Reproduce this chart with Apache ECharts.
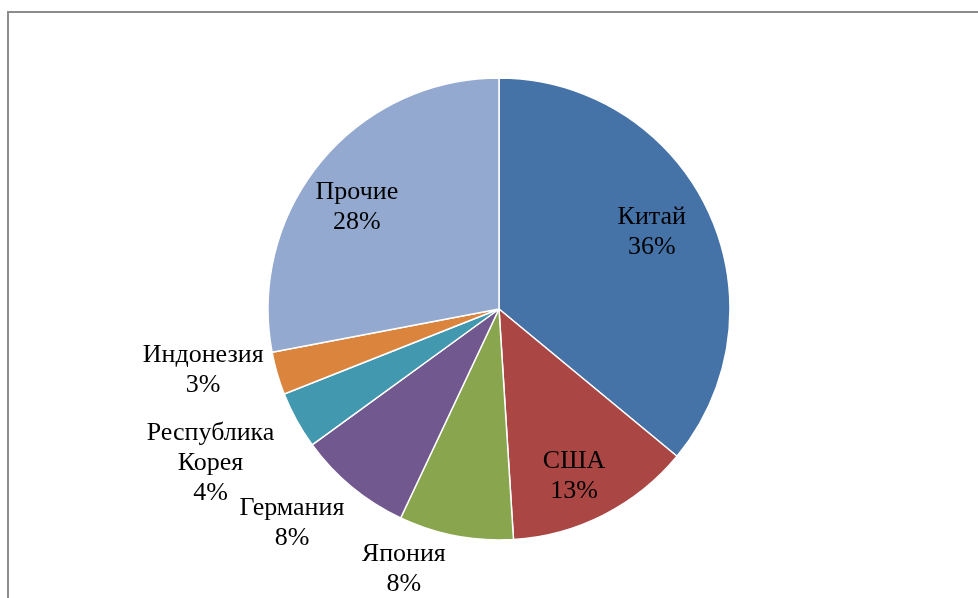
<!DOCTYPE html>
<html>
<head>
<meta charset="utf-8">
<script src="https://cdn.jsdelivr.net/npm/echarts@6/dist/echarts.min.js"></script>
<style>
  html, body { margin: 0; padding: 0; background: #fff; }
  #main { width: 978px; height: 598px; }
</style>
</head>
<body>
<div id="main"></div>
<script>
// данные диаграммы
var countries = ['Китай', 'США', 'Япония', 'Германия', 'Республика Корея', 'Индонезия', 'Прочие'];
var shares = [36, 13, 8, 8, 4, 3, 28];
var colors = ['#4572A7', '#AA4643', '#89A54E', '#71588F', '#4198AF', '#DB843D', '#93A9CF'];

// где стоят подписи: поворот от середины сектора (град.) и расстояние от центра (px)
var labelTurn = [-1.5, 2.8, 9.3, 4.4, 0.7, 4.6, -3.9];
var labelDist = [171, 183, 277, 298, 327, 302, 175];

var cx = 499, cy = 309, R = 231;
var total = shares.reduce(function (a, b) { return a + b; }, 0);
var cum = [];
var acc = 0;
shares.forEach(function (v) { cum.push(acc); acc += v; });

var myChart = echarts.init(document.getElementById('main'));

var option = {
  backgroundColor: '#fff',
  animation: false,
  graphic: [{
    type: 'rect',
    shape: { x: 8, y: 12, width: 1100, height: 800 },
    style: { fill: 'none', stroke: '#8c8c8c', lineWidth: 2 },
    silent: true
  }],
  series: [{
    type: 'pie',
    center: [cx, cy],
    radius: R,
    startAngle: 90,
    clockwise: true,
    avoidLabelOverlap: false,
    itemStyle: { borderColor: '#fff', borderWidth: 1.5 },
    label: {
      show: true,
      fontFamily: 'Liberation Serif',
      fontSize: 26,
      lineHeight: 30,
      color: '#000',
      formatter: function (p) {
        return p.name.replace(' ', '\n') + '\n' + p.percent + '%';
      }
    },
    labelLine: { show: false },
    labelLayout: function (p) {
      var i = p.dataIndex;
      var mid = (cum[i] + shares[i] / 2) / total * 360 + labelTurn[i];
      var a = mid * Math.PI / 180;
      return {
        x: cx + labelDist[i] * Math.sin(a),
        y: cy - labelDist[i] * Math.cos(a),
        align: 'center',
        verticalAlign: 'middle'
      };
    },
    data: countries.map(function (name, i) {
      return { name: name, value: shares[i], itemStyle: { color: colors[i] } };
    })
  }]
};

myChart.setOption(option);
</script>
</body>
</html>
